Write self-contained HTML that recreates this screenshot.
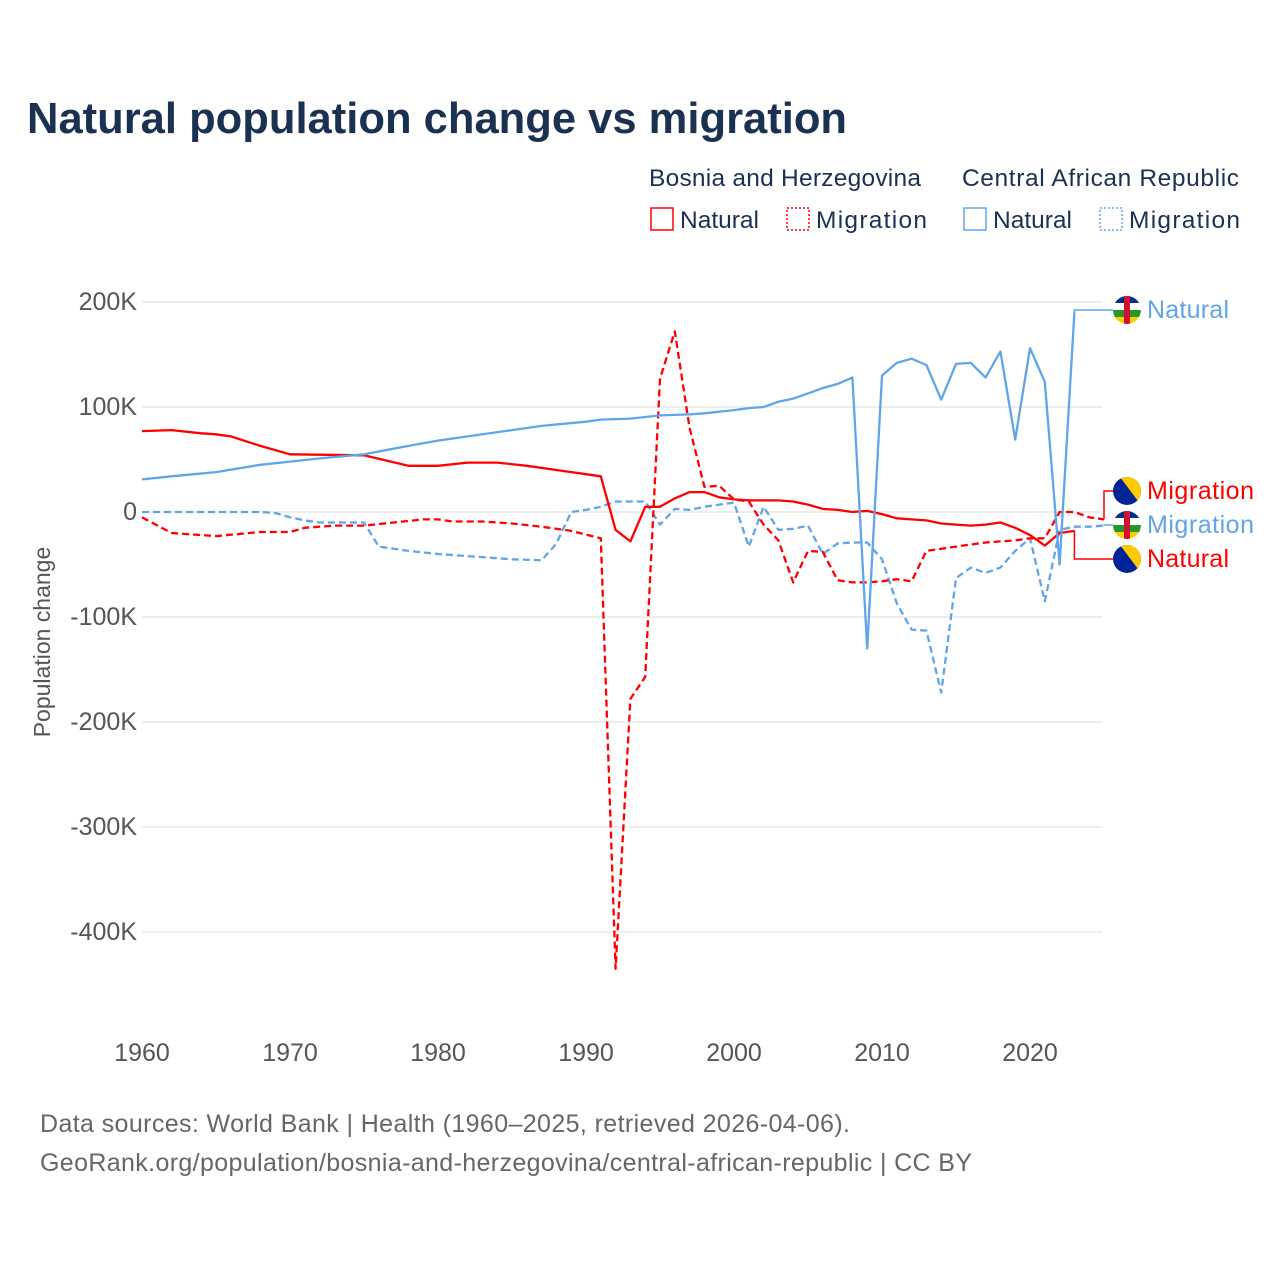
<!DOCTYPE html>
<html><head><meta charset="utf-8"><style>
body{margin:0;background:#fff;font-family:"Liberation Sans",sans-serif;}
svg text{font-family:"Liberation Sans",sans-serif;}
</style></head><body>
<svg id="chart" width="1280" height="1280" viewBox="0 0 1280 1280" xmlns="http://www.w3.org/2000/svg">
<rect width="1280" height="1280" fill="#fff"/>
<text x="27" y="133" font-size="43.5" font-weight="bold" fill="#1b3152" textLength="820" lengthAdjust="spacingAndGlyphs">Natural population change vs migration</text>
<g font-size="24.5" fill="#1b3152">
<text x="649" y="186" textLength="272">Bosnia and Herzegovina</text>
<text x="962" y="186" textLength="277">Central African Republic</text>
<g><rect x="651" y="208" width="22" height="22" fill="none" stroke="#f00" stroke-width="1.5"/><text x="680" y="228">Natural</text></g>
<g><rect x="787" y="208" width="22" height="22" fill="none" stroke="#f00" stroke-width="1.5" stroke-dasharray="2 2"/><text x="816" y="228" textLength="111">Migration</text></g>
<g><rect x="964" y="208" width="22" height="22" fill="none" stroke="#5fa5e8" stroke-width="1.5"/><text x="993" y="228">Natural</text></g>
<g><rect x="1100" y="208" width="22" height="22" fill="none" stroke="#5fa5e8" stroke-width="1.5" stroke-dasharray="2 2"/><text x="1129" y="228" textLength="111">Migration</text></g>
</g>
<g id="grid"></g>
<g id="series"></g>
<g id="endlabels"></g>
<text transform="translate(50,642) rotate(-90)" text-anchor="middle" font-size="23" fill="#555">Population change</text>
<text x="40" y="1132" font-size="25" fill="#666" textLength="810">Data sources: World Bank | Health (1960–2025, retrieved 2026-04-06).</text>
<text x="40" y="1171" font-size="25" fill="#666" textLength="932">GeoRank.org/population/bosnia-and-herzegovina/central-african-republic | CC BY</text>
</svg>
<script>
const yTicks=[200,100,0,-100,-200,-300,-400];
const yTickLabels=["200K","100K","0","-100K","-200K","-300K","-400K"];
const xTicks=[1960,1970,1980,1990,2000,2010,2020];
const bihNatYears=[1960,1962,1964,1965,1966,1968,1970,1975,1978,1980,1982,1984,1986,1988,1990,1991,1992,1993,1994,1995,1996,1997,1998,1999,2000,2001,2002,2003,2004,2005,2006,2007,2008,2009,2010,2011,2012,2013,2014,2015,2016,2017,2018,2019,2020,2021,2022,2023];
const bihNat=[77,78,75,74,72,63,55,54,44,44,47,47,44,40,36,34,-17,-28,5,5,13,19,19,14,12,11,11,11,10,7,3,2,0,1,-2,-6,-7,-8,-11,-12,-13,-12,-10,-15,-22,-32,-20,-18];
const bihMigYears=[1960,1962,1965,1968,1970,1971,1973,1975,1977,1979,1980,1981,1983,1985,1987,1989,1991,1992,1993,1994,1995,1996,1997,1998,1999,2000,2001,2002,2003,2004,2005,2006,2007,2008,2009,2010,2011,2012,2013,2014,2015,2016,2017,2018,2019,2020,2021,2022,2023,2024,2025];
const bihMig=[-5,-20,-23,-19,-19,-15,-13,-13,-10,-7,-7,-9,-9,-11,-14,-18,-25,-435,-178,-157,127,172,80,24,25,12,10,-12,-27,-67,-37,-38,-65,-67,-67,-66,-64,-66,-37,-35,-33,-31,-29,-28,-27,-25,-25,0,0,-5,-7];
const carNatYears=[1960,1962,1965,1968,1970,1972,1975,1978,1980,1982,1985,1987,1990,1991,1993,1995,1997,1998,2000,2001,2002,2003,2004,2005,2006,2007,2008,2009,2010,2011,2012,2013,2014,2015,2016,2017,2018,2019,2020,2021,2022,2023];
const carNat=[31,34,38,45,48,51,55,63,68,72,78,82,86,88,89,92,93,94,97,99,100,105,108,113,118,122,128,-130,130,142,146,140,107,141,142,128,153,69,156,124,-50,190];
const carMigYears=[1960,1968,1969,1970,1971,1972,1975,1976,1978,1980,1982,1985,1987,1988,1989,1990,1991,1992,1994,1995,1996,1997,1998,1999,2000,2001,2002,2003,2004,2005,2006,2007,2008,2009,2010,2011,2012,2013,2014,2015,2016,2017,2018,2019,2020,2021,2022,2023,2024,2025];
const carMig=[0,0,-1,-5,-8,-10,-10,-33,-37,-40,-42,-45,-46,-30,0,2,5,10,10,-12,3,2,5,7,9,-33,5,-17,-16,-13,-40,-30,-29,-29,-45,-87,-112,-113,-172,-63,-53,-58,-53,-37,-25,-85,-17,-14,-14,-13];

const NS="http://www.w3.org/2000/svg";
const xS=yr=>142+(yr-1960)*14.8;
const yS=v=>512-v*1.05;
function mk(tag,attrs,parent){const e=document.createElementNS(NS,tag);for(const k in attrs)e.setAttribute(k,attrs[k]);parent.appendChild(e);return e;}
const grid=document.getElementById('grid');
yTicks.forEach((t,i)=>{
 const l=mk('line',{x1:142,x2:1102,y1:yS(t),y2:yS(t),stroke:'#e8e8e8','stroke-width':1.5},grid);
 
 
 const tx=mk('text',{x:137,y:yS(t)+8,'text-anchor':'end','font-size':25,fill:'#555'},grid);
 tx.textContent=yTickLabels[i];
 
 
});
xTicks.forEach(t=>{
 const tx=mk('text',{x:xS(t),y:1061,'text-anchor':'middle','font-size':25,fill:'#555'},grid);
 tx.textContent=t;
 
 
});
const ser=document.getElementById('series');
function line(years,vals,color,dash,name){
 const d=years.map((y,i)=>(i?'L':'M')+xS(y).toFixed(1)+','+yS(vals[i]).toFixed(1)).join(' ');
 const p=mk('path',{d:d,fill:'none',stroke:color,'stroke-width':2.3,'stroke-linejoin':'round'},ser);
 if(dash)p.setAttribute('stroke-dasharray','7 4');
 
 
}
const RED='#ff0000',BLUE='#5fa5e8';
line(carMigYears,carMig,BLUE,true,'car-migration-line');
line(bihMigYears,bihMig,RED,true,'bih-migration-line');
line(bihNatYears,bihNat,RED,false,'bih-natural-line');
line(carNatYears,carNat,BLUE,false,'car-natural-line');

const el=document.getElementById('endlabels');
function flag(cx,cy,type,g){
 const id='c'+Math.round(cy);
 const cp=mk('clipPath',{id:id},g);mk('circle',{cx:cx,cy:cy,r:14},cp);
 const f=mk('g',{'clip-path':'url(#'+id+')'},g);
 if(type==='car'){
  const c=['#003082','#ffffff','#289728','#ffce00'];
  c.forEach((col,i)=>mk('rect',{x:cx-14,y:cy-14+i*7,width:28,height:7,fill:col},f));
  mk('rect',{x:cx-3,y:cy-14,width:6,height:28,fill:'#d21034'},f);
 } else {
  mk('rect',{x:cx-14,y:cy-14,width:28,height:28,fill:'#002395'},f);
  mk('polygon',{points:(cx-7)+','+(cy-14)+' '+(cx+14)+','+(cy-14)+' '+(cx+14)+','+(cy+14)},f).setAttribute('fill','#fecb00');
 }
}
function endLabel(x0,y0,yl,text,color,type,name,w){
 const g=mk('g',{},el);
 
 
 mk('path',{d:`M${x0},${y0} L${x0},${yl} L1113,${yl}`,fill:'none',stroke:color,'stroke-width':1.5},g);
 flag(1127,yl,type,g);
 const t=mk('text',{x:1147,y:yl+8,'font-size':25,fill:color,textLength:w},g);t.textContent=text;
}
endLabel(xS(2023),yS(190),310,'Natural',BLUE,'car','label-car-natural',82);
endLabel(xS(2025),yS(-7),491,'Migration',RED,'bih','label-bih-migration',107);
endLabel(xS(2025),yS(-13),525,'Migration',BLUE,'car','label-car-migration',107);
endLabel(xS(2023),yS(-18),559,'Natural',RED,'bih','label-bih-natural',82);
</script>
</body></html>
